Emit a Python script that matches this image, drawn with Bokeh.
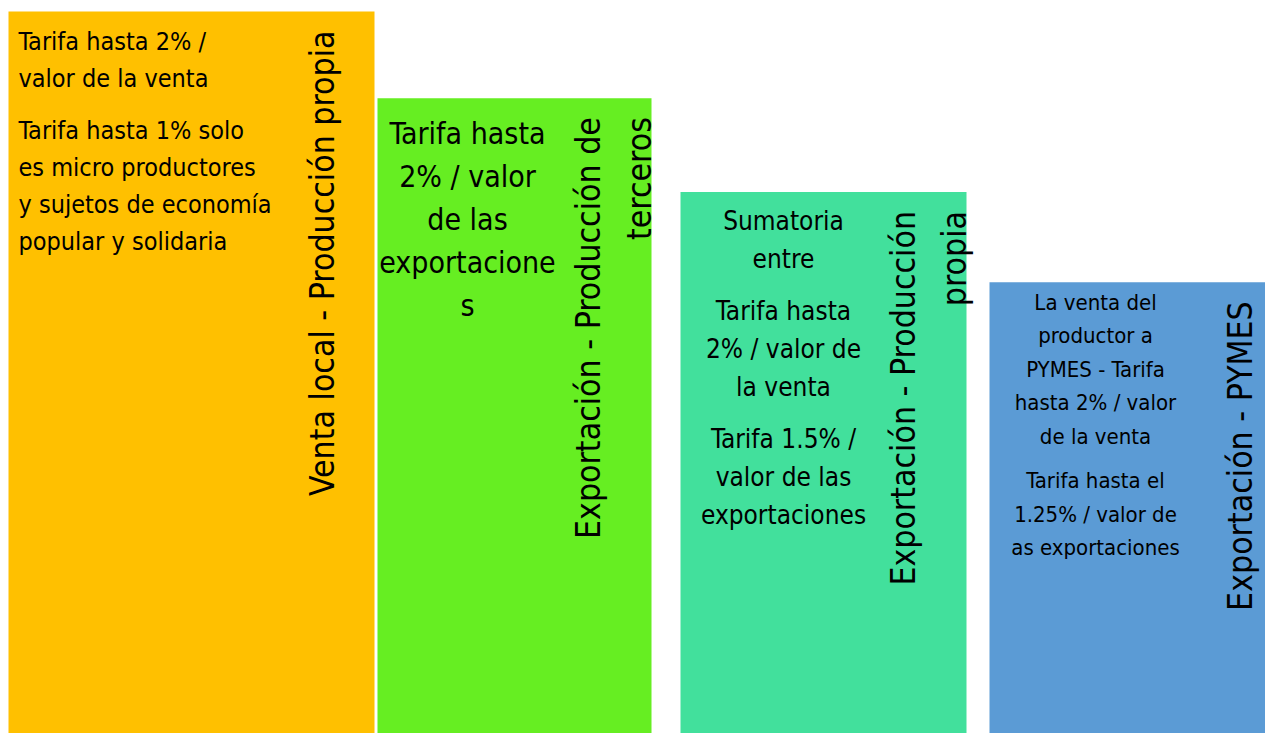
import math
from bokeh.plotting import figure
from bokeh.models import Range1d
from bokeh.core.properties import value
from bokeh.embed import file_html
from bokeh.resources import INLINE

# ---------------- data ----------------
categories = [
    "Venta local - Producción propia",
    "Exportación - Producción de terceros",
    "Exportación - Producción propia",
    "Exportación - PYMES",
]
heights = [8, 7.04, 6, 5]
label_lines = [
    ["Venta local - Producción propia"],
    ["Exportación - Producción de", "terceros"],
    ["Exportación - Producción", "propia"],
    ["Exportación - PYMES"],
]
body_paragraphs = [
    [["Tarifa hasta 2% /", "valor de la venta"],
     ["Tarifa hasta 1% solo", "es micro productores", "y sujetos de economía", "popular y solidaria"]],
    [["Tarifa hasta", "2% / valor", "de las", "exportacione", "s"]],
    [["Sumatoria", "entre"],
     ["Tarifa hasta", "2% / valor de", "la venta"],
     ["Tarifa 1.5% /", "valor de las", "exportaciones"]],
    [["La venta del", "productor a", "PYMES - Tarifa", "hasta 2% / valor", "de la venta"],
     ["Tarifa hasta el", "1.25% / valor de", "as exportaciones"]],
]

# ---------------- styles / layout ----------------
colors = ["#FFC000", "#66EE22", "#42E09C", "#5B9BD5"]
FONT = "DejaVu Sans Condensed, Roboto, sans-serif"
W, H = 1265, 733
bar_left = [8, 377, 680, 989]
bar_right = [374, 651, 966, 1300]
body_x = [18, 467, 783, 1095]
body_align = ["left", "center", "center", "center"]
body_size = [25, 30, 26, 22]
body_first = [30, 35, 29, 20]
body_step = [37, 43, 38, 33.5]
body_gap = [15, 0, 14, 11]
label_x = [322, 588, 903, 1240]
label_step = 51
label_pad = 19
label_size = 33.5

# vertical scale: tallest bar top 11px below plot top, zero at plot bottom
unit = (H - 11) / max(heights)

p = figure(width=W, height=H, x_range=Range1d(0, W), y_range=Range1d(0, H / unit),
           output_backend="svg", toolbar_location=None,
           x_axis_location=None, y_axis_location=None,
           min_border=0, outline_line_color=None, background_fill_color="white")
p.grid.visible = False

p.quad(left=bar_left, right=bar_right, bottom=[0] * 4, top=heights,
       fill_color=colors, line_color=None)

for i, paras in enumerate(body_paragraphs):
    xs, ys, ts = [], [], []
    k = 0
    for j, para in enumerate(paras):
        for line in para:
            off = body_first[i] + k * body_step[i] + j * body_gap[i]
            xs.append(body_x[i])
            ys.append(heights[i] - off / unit)
            ts.append(line)
            k += 1
    p.text(x=xs, y=ys, text=ts, text_align=body_align[i], text_baseline="middle",
           text_font=value(FONT), text_font_size=f"{body_size[i]}px", text_color="black")

for i, lines in enumerate(label_lines):
    xs = [label_x[i] + k * label_step for k in range(len(lines))]
    ys = [heights[i] - label_pad / unit] * len(lines)
    p.text(x=xs, y=ys, text=lines, angle=math.pi / 2, text_align="right",
           text_baseline="middle", text_font=value(FONT),
           text_font_size=f"{label_size}px", text_color="black")

open("out.html", "w").write(file_html(p, INLINE))
